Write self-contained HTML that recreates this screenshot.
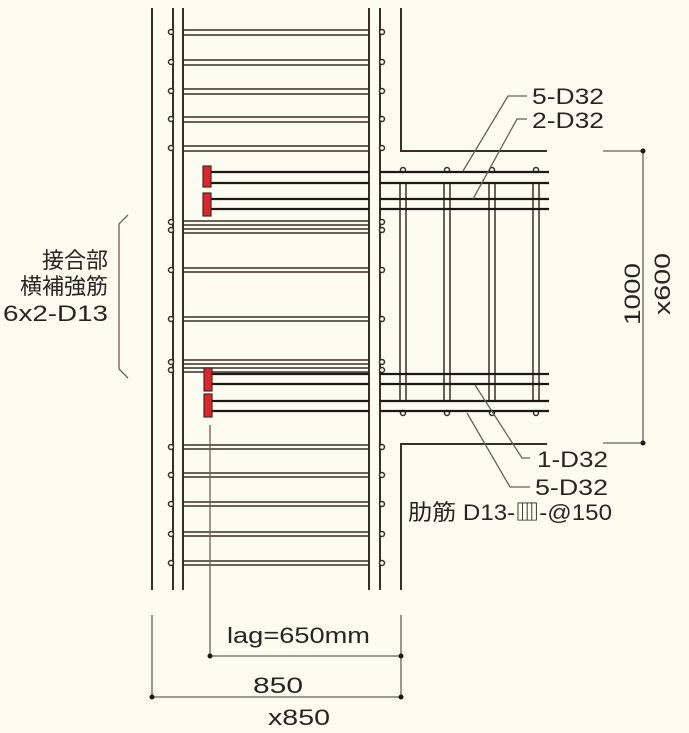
<!DOCTYPE html>
<html><head><meta charset="utf-8"><style>
html,body{margin:0;padding:0;background:#fdfcf1;}
svg{display:block;}
text{font-family:"Liberation Sans","Noto Sans CJK JP",sans-serif;fill:#2a2420;}
</style></head><body>
<svg width="689" height="733" viewBox="0 0 689 733" xmlns="http://www.w3.org/2000/svg">
<rect width="689" height="733" fill="#fdfcf1"/>
<g stroke="#3a2e28" fill="none">
<line x1="152" y1="8" x2="152" y2="590" stroke-width="2"/>
<line x1="173" y1="8" x2="173" y2="590" stroke-width="2"/>
<line x1="183" y1="8" x2="183" y2="590" stroke-width="2"/>
<line x1="369" y1="8" x2="369" y2="590" stroke-width="2"/>
<line x1="380" y1="8" x2="380" y2="590" stroke-width="2"/>
<polyline points="401,8 401,151 547,151" stroke-width="2"/>
<polyline points="547,444 401,444 401,590" stroke-width="2"/>
</g>
<g stroke="#3a2e28" stroke-width="1.5" fill="#fdfcf1">
<path d="M184 30H369M184 35H369 M184 60H369M184 65H369 M184 89H369M184 94H369 M184 117H369M184 122H369 M184 146H369M184 151H369 M184 221H369M184 225H369M184 229H369M184 233H369 M184 268H369M184 272H369 M184 317H369M184 321H369 M184 360H369M184 364H369M184 368H369M184 372H369 M184 445H369M184 449H369 M184 473H369M184 477H369 M184 502H369M184 506H369 M184 532H369M184 536H369 M184 561H369M184 565H369"/>
<g>
<circle cx="171" cy="32" r="2.5"/><circle cx="382" cy="32" r="2.5"/>
<circle cx="171" cy="62" r="2.5"/><circle cx="382" cy="62" r="2.5"/>
<circle cx="171" cy="91" r="2.5"/><circle cx="382" cy="91" r="2.5"/>
<circle cx="171" cy="119" r="2.5"/><circle cx="382" cy="119" r="2.5"/>
<circle cx="171" cy="148" r="2.5"/><circle cx="382" cy="148" r="2.5"/>
<circle cx="171" cy="222" r="2.5"/><circle cx="382" cy="222" r="2.5"/>
<circle cx="171" cy="230" r="2.5"/><circle cx="382" cy="230" r="2.5"/>
<circle cx="171" cy="270" r="2.5"/><circle cx="382" cy="270" r="2.5"/>
<circle cx="171" cy="319" r="2.5"/><circle cx="382" cy="319" r="2.5"/>
<circle cx="171" cy="362" r="2.5"/><circle cx="382" cy="362" r="2.5"/>
<circle cx="171" cy="370" r="2.5"/><circle cx="382" cy="370" r="2.5"/>
<circle cx="171" cy="447" r="2.5"/><circle cx="382" cy="447" r="2.5"/>
<circle cx="171" cy="475" r="2.5"/><circle cx="382" cy="475" r="2.5"/>
<circle cx="171" cy="504" r="2.5"/><circle cx="382" cy="504" r="2.5"/>
<circle cx="171" cy="534" r="2.5"/><circle cx="382" cy="534" r="2.5"/>
<circle cx="171" cy="563" r="2.5"/><circle cx="382" cy="563" r="2.5"/>
</g>
</g>
<g stroke="#3a2e28" stroke-width="1.5">
<path d="M400 183V401M406 183V401M444 183V401M450 183V401M489 183V401M495 183V401M533 183V401M539 183V401"/>
</g>
<g stroke="#3a2e28" stroke-width="1.5" fill="#fdfcf1">
<circle cx="403" cy="170" r="2.5"/><circle cx="447" cy="170" r="2.5"/><circle cx="492" cy="170" r="2.5"/><circle cx="536" cy="170" r="2.5"/>
<circle cx="403" cy="413" r="2.5"/><circle cx="447" cy="413" r="2.5"/><circle cx="492" cy="413" r="2.5"/><circle cx="536" cy="413" r="2.5"/>
</g>
<g stroke="#1e1814" stroke-width="2.2">
<path d="M211 172H369M211 183H369M211 199H369M211 209H369 M211 374H369M211 384H369M211 401H369M211 411H369"/>
<path d="M380 172H549M380 183H549M380 199H549M380 209H549 M380 374H549M380 384H549M380 401H549M380 411H549"/>
</g>
<g fill="#e0242a" stroke="#3a2e28" stroke-width="1.2">
<rect x="203" y="166" width="8" height="21"/>
<rect x="203" y="193" width="8" height="23"/>
<rect x="204" y="368" width="8" height="23"/>
<rect x="204" y="394" width="8" height="23"/>
</g>
<g stroke="#6a6058" stroke-width="1.3" fill="none">
<polyline points="210,425 210,656 401,656"/>
<line x1="401" y1="615" x2="401" y2="697"/>
<polyline points="152,615 152,697 401,697"/>
<line x1="603" y1="151" x2="643" y2="151"/>
<line x1="603" y1="443" x2="643" y2="443"/>
<line x1="643" y1="151" x2="643" y2="443"/>
<polyline points="527,96 508,96 463,171"/>
<polyline points="527,119 517,119 473,199"/>
<polyline points="475,385 522,458 530,458"/>
<polyline points="467,413 510,487 530,487"/>
<polyline points="128,215 119,224 119,369 128,378"/>
</g>
<g fill="#1e1814">
<circle cx="210" cy="656" r="2.5"/><circle cx="401" cy="656" r="2.5"/>
<circle cx="152" cy="697" r="2.5"/><circle cx="401" cy="697" r="2.5"/>
<circle cx="643" cy="151" r="2.5"/><circle cx="643" cy="443" r="2.5"/>
</g>
<g font-size="22">
<text x="532" y="104" textLength="72" lengthAdjust="spacingAndGlyphs">5-D32</text>
<text x="532" y="128" textLength="72" lengthAdjust="spacingAndGlyphs">2-D32</text>
<text x="537" y="467" textLength="71" lengthAdjust="spacingAndGlyphs">1-D32</text>
<text x="535" y="495" textLength="73" lengthAdjust="spacingAndGlyphs">5-D32</text>
<text x="408" y="520" textLength="204" lengthAdjust="spacingAndGlyphs">肋筋 D13-▥-@150</text>
<text x="227" y="643" textLength="143" lengthAdjust="spacingAndGlyphs">lag=650mm</text>
<text x="253" y="693" textLength="50" lengthAdjust="spacingAndGlyphs">850</text>
<text x="268" y="725" textLength="62" lengthAdjust="spacingAndGlyphs">x850</text>
<text x="42" y="268" textLength="66" lengthAdjust="spacingAndGlyphs">接合部</text>
<text x="20" y="294" textLength="88" lengthAdjust="spacingAndGlyphs">横補強筋</text>
<text x="3" y="321" textLength="105" lengthAdjust="spacingAndGlyphs">6x2-D13</text>
<text transform="translate(640,325) rotate(-90)" textLength="62" lengthAdjust="spacingAndGlyphs">1000</text>
<text transform="translate(670,315) rotate(-90)" textLength="62" lengthAdjust="spacingAndGlyphs">x600</text>
</g>
</svg>
</body></html>
